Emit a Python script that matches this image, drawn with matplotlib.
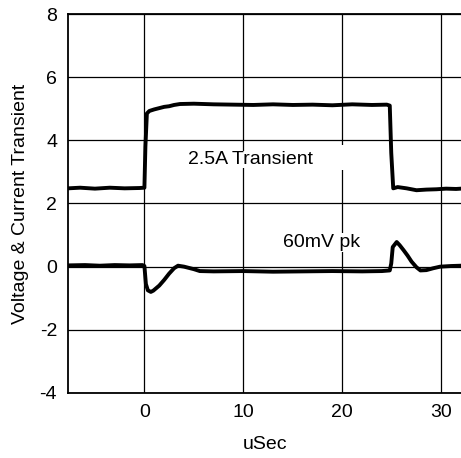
import matplotlib
matplotlib.use("Agg")
import matplotlib.pyplot as plt

plt.rcParams["font.family"] = ["Liberation Sans", "DejaVu Sans"]
plt.rcParams["axes.unicode_minus"] = False

# current trace
cur_t = [-7.7, -6.5, -5.0, -3.5, -2.0, -0.5, 0.0, 0.1, 0.25, 0.5, 1.0, 1.5, 2.0, 2.5, 3.0,
         3.6, 5.0, 7.0, 9.0, 11.0, 13.0, 15.0, 17.0, 19.0, 21.0, 23.0, 24.5, 24.8,
         24.95, 25.15, 25.6, 26.5, 27.5, 28.5, 29.5, 30.5, 31.5, 32.0]
cur_v = [2.48, 2.5, 2.47, 2.5, 2.48, 2.49, 2.5, 3.8, 4.85, 4.93, 4.98, 5.02, 5.06, 5.08, 5.12,
         5.15, 5.16, 5.14, 5.13, 5.12, 5.14, 5.12, 5.13, 5.11, 5.14, 5.12, 5.13, 5.1,
         3.6, 2.48, 2.52, 2.48, 2.42, 2.44, 2.45, 2.47, 2.46, 2.47]

# output voltage trace
volt_t = [-7.7, -6.0, -4.5, -3.0, -1.5, -0.2, 0.0, 0.15, 0.35, 0.65, 0.9, 1.5, 2.0, 2.5,
          3.0, 3.4, 4.0, 5.0, 5.6, 7.0, 10.0, 13.0, 16.0, 19.0, 22.0, 24.0, 24.8, 24.95,
          25.1, 25.5, 25.8, 26.2, 26.6, 27.0, 27.5, 27.9, 28.5, 29.2, 29.9, 31.0, 32.0]
volt_v = [0.04, 0.05, 0.03, 0.05, 0.04, 0.05, 0.02, -0.55, -0.75, -0.8, -0.76, -0.6, -0.42,
          -0.22, -0.05, 0.03, 0.0, -0.08, -0.14, -0.15, -0.14, -0.16, -0.15, -0.14, -0.15,
          -0.14, -0.12, 0.1, 0.62, 0.78, 0.68, 0.52, 0.35, 0.16, -0.02, -0.12, -0.11, -0.05,
          0.0, 0.02, 0.03]

x_ticks = [0, 10, 20, 30]
y_ticks = [-4, -2, 0, 2, 4, 6, 8]

fig = plt.figure(figsize=(4.61, 4.58), dpi=100)
ax = fig.add_axes([0.148, 0.142, 0.852, 0.8274])

ax.plot(cur_t, cur_v, color="black", linewidth=2.8, solid_joinstyle="round", zorder=3)
ax.plot(volt_t, volt_v, color="black", linewidth=2.8, solid_joinstyle="round", zorder=3)

ax.set_xlim(-7.7, 32)
ax.set_ylim(-4, 8)
ax.set_xticks(x_ticks)
ax.set_yticks(y_ticks)
ax.grid(True, color="black", linewidth=0.9)
ax.set_axisbelow(True)
ax.tick_params(length=0, labelsize=14, pad=8, colors="black")

for s in ["left", "bottom", "top"]:
    ax.spines[s].set_linewidth(1.3)
ax.spines["right"].set_visible(False)

ax.text(4.4, 3.4, "2.5A Transient", fontsize=14, va="center", ha="left",
        bbox=dict(facecolor="white", edgecolor="none", pad=0), zorder=2)
ax.text(19.5, 3.45, " ", fontsize=14, va="center", ha="left",
        bbox=dict(facecolor="white", edgecolor="none", boxstyle="square,pad=0.2"), zorder=2)
ax.text(14.0, 0.77, "60mV pk", fontsize=14, va="center", ha="left",
        bbox=dict(facecolor="white", edgecolor="none", boxstyle="square,pad=0.05"), zorder=2)

ax.set_xlabel("uSec", fontsize=14, labelpad=11)
ax.set_ylabel("Voltage & Current Transient", fontsize=14, labelpad=8)

fig.savefig("out.png", dpi=100)
